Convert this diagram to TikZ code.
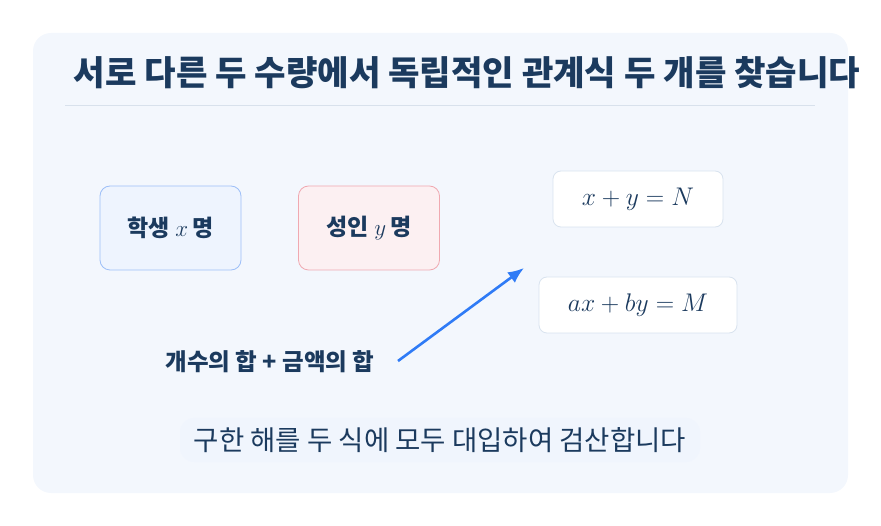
\RequirePackage{fix-cm}
\documentclass[tikz,border=0pt]{standalone}
\usepackage{fontspec}
\setmainfont{Noto Sans CJK KR}
\usepackage{tikz}
\usetikzlibrary{arrows.meta}

\definecolor{panelbg}{HTML}{F3F7FD}
\definecolor{navy}{HTML}{1B3A5E}
\definecolor{rulegray}{HTML}{D8E1EC}
\definecolor{stuborder}{HTML}{9DBFF8}
\definecolor{stufill}{HTML}{EEF4FE}
\definecolor{aduborder}{HTML}{F0A9B1}
\definecolor{adufill}{HTML}{FCF0F2}
\definecolor{eqborder}{HTML}{D9E3EF}
\definecolor{arrowblue}{HTML}{2F7BF6}
\definecolor{notebg}{HTML}{F0F5FD}

\begin{document}
\begin{tikzpicture}[x=1pt, y=-1pt,
    every node/.style={text=navy},
    group/.style={draw, rounded corners=10pt, line width=0.8pt,
        minimum width=141pt, minimum height=84pt,
        font=\fontsize{23}{26}\selectfont\bfseries},
    eqbox/.style={draw=eqborder, fill=white, rounded corners=8pt,
        line width=0.8pt, minimum height=56pt,
        font=\fontsize{25.5}{30}\selectfont},
    flow/.style={draw=arrowblue, line width=2.6pt,
        -{Latex[length=16pt, width=13pt]}}]
        \useasboundingbox (0, 0) rectangle (881, 526);
        \fill[panelbg, rounded corners=18pt] (33, 33) rectangle (848, 493);

        \node (title) at (467, 73)
            {\fontsize{34.2}{38}\selectfont\bfseries 서로 다른 두 수량에서 독립적인 관계식 두 개를 찾습니다};
        \coordinate (ruleL) at (65, 105);
        \coordinate (ruleR) at (815, 105);
        \draw[rulegray, line width=0.8pt] (ruleL) -- (ruleR);

        \node[group, draw=stuborder, fill=stufill] (student) at (170.5, 228)
            {학생 $x$\,명};
        \node[group, draw=aduborder, fill=adufill] (adult) at (369, 228)
            {성인 $y$\,명};

        \node[eqbox, minimum width=170pt] (sumcount) at (638, 199)
            {$x+y=N$};
        \node[eqbox, minimum width=198pt] (sumprice) at (638, 305)
            {$ax+by=M$};

        \node[font=\fontsize{23.5}{26}\selectfont\bfseries] (cond) at (270, 362)
            {개수의 합 + 금액의 합};
        \coordinate (arrowfrom) at (398, 361);
        \coordinate (arrowto) at (524, 268);
        \draw[flow] (arrowfrom) -- (arrowto);

        \node[fill=notebg, rounded corners=14pt, minimum width=520pt,
            minimum height=44pt, font=\fontsize{27.5}{30}\selectfont] (check) at (440, 440)
            {구한 해를 두 식에 모두 대입하여 검산합니다};
    \end{tikzpicture}
\end{document}
